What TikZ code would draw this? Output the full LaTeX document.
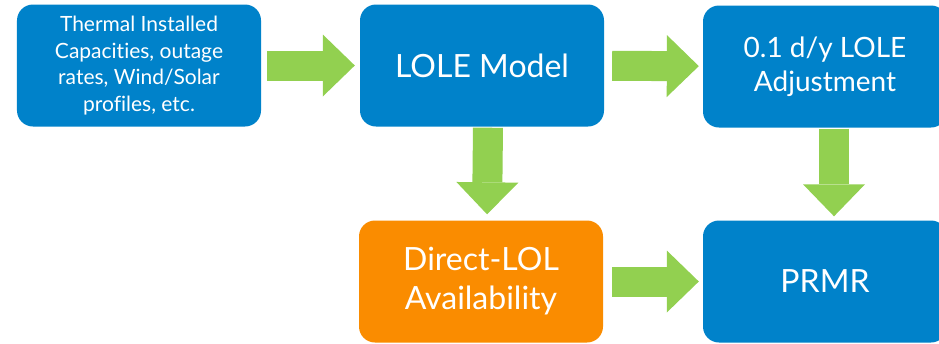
\documentclass[tikz,border=0pt]{standalone}
\usepackage{fontspec}
\setmainfont{Lato}[Ligatures=NoCommon]
\usepackage{tikz}
\usetikzlibrary{arrows.meta}

\definecolor{boxblue}{HTML}{0082CA}
\definecolor{boxorange}{HTML}{FA8C00}
\definecolor{flowgreen}{HTML}{92D050}

\tikzset{
  box/.style={rectangle, rounded corners=16bp, fill=boxblue, text=white,
    minimum width=244bp, minimum height=122bp, align=center, inner sep=0pt,
    font=\fontsize{32bp}{39bp}\selectfont},
  flow/.style={flowgreen, line width=30bp,
    -{Triangle[length=32bp, width=62bp, line width=0pt]}}
}

\begin{document}
\begin{tikzpicture}[x=1bp, y=-1bp]
        \useasboundingbox (0,0) rectangle (939,343);
        \clip (0,0) rectangle (939,343);

        % Top row
        \node[box, font=\fontsize{21bp}{26.5bp}\selectfont] (inputs) at (139,65.5)
            {Thermal Installed\\Capacities, outage\\rates, Wind/Solar\\profiles, etc.};
        \node[box] (lole) at (482,65.5) {LOLE Model};
        \node[box, font=\fontsize{28bp}{33.5bp}\selectfont] (adjust) at (825,66.5)
            {0.1 d/y LOLE\\Adjustment};

        % Bottom row
        \node[box, fill=boxorange] (direct) at (481,281.5) {Direct-LOL\\Availability};
        \node[box] (prmr) at (825,281.5) {PRMR};

        % Arrows between the boxes
        \draw[flow, shorten <=6bp, shorten >=5bp] (inputs) -- (lole);
        \draw[flow, shorten <=8bp, shorten >=4bp] (lole) -- (adjust);
        \draw[flow, shorten <=1bp, shorten >=6bp] ([xshift=6bp]lole.south) -- ([xshift=6bp]direct.north);
        \draw[flow, shorten <=1bp, shorten >=4bp] ([xshift=9bp]adjust.south) -- ([xshift=9bp]prmr.north);
        \draw[flow, shorten <=9bp, shorten >=4bp] (direct) -- (prmr);
    \end{tikzpicture}
\end{document}
